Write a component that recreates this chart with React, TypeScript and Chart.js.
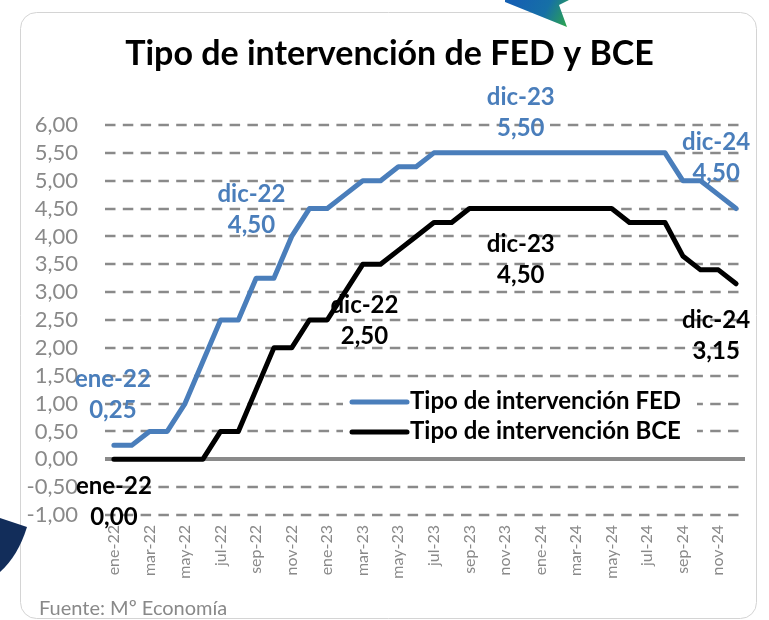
import React, { useEffect, useRef } from 'react';
import { Chart, registerables } from 'chart.js';

Chart.register(...registerables);

// ---------- data ----------
const months = [
  'ene-22', 'feb-22', 'mar-22', 'abr-22', 'may-22', 'jun-22', 'jul-22', 'ago-22', 'sep-22', 'oct-22', 'nov-22', 'dic-22',
  'ene-23', 'feb-23', 'mar-23', 'abr-23', 'may-23', 'jun-23', 'jul-23', 'ago-23', 'sep-23', 'oct-23', 'nov-23', 'dic-23',
  'ene-24', 'feb-24', 'mar-24', 'abr-24', 'may-24', 'jun-24', 'jul-24', 'ago-24', 'sep-24', 'oct-24', 'nov-24', 'dic-24',
];

const fedRates = [
  0.25, 0.25, 0.5, 0.5, 1.0, 1.75, 2.5, 2.5, 3.25, 3.25, 4.0, 4.5,
  4.5, 4.75, 5.0, 5.0, 5.25, 5.25, 5.5, 5.5, 5.5, 5.5, 5.5, 5.5,
  5.5, 5.5, 5.5, 5.5, 5.5, 5.5, 5.5, 5.5, 5.0, 5.0, 4.75, 4.5,
];

const bceRates = [
  0, 0, 0, 0, 0, 0, 0.5, 0.5, 1.25, 2.0, 2.0, 2.5,
  2.5, 3.0, 3.5, 3.5, 3.75, 4.0, 4.25, 4.25, 4.5, 4.5, 4.5, 4.5,
  4.5, 4.5, 4.5, 4.5, 4.5, 4.25, 4.25, 4.25, 3.65, 3.4, 3.4, 3.15,
];

const seriesNames = ['Tipo de intervención FED', 'Tipo de intervención BCE'];
const chartTitle = 'Tipo de intervención de FED y BCE';
const sourceNote = 'Fuente: Mº Economía';
const yMin = -1;
const yMax = 6;
const yStep = 0.5;

// callouts: which series / month gets a "month + value" label
const calloutMonthsFed = ['ene-22', 'dic-22', 'dic-23', 'dic-24'];
const calloutMonthsBce = ['ene-22', 'dic-22', 'dic-23', 'dic-24'];

// ---------- styles / layout (not data) ----------
const FONT = 'Lato, "Open Sans", sans-serif';
const BLUE = '#4a7ebb';
const BLACK = '#000000';
const GRAY_TXT = '#898989';
const GRID = '#8a8a8a';

// offsets of callout (first-line baseline) relative to its data point, in px
const calloutOffsets = [
  [[-1, -58], [-58, -7], [-2, -48], [-20, -59]],
  [[0, 35], [55, -7], [-2, 43], [-20, 44]],
];

const fmt = (v: number) => v.toFixed(2).replace('.', ',');

const decorPlugin = {
  id: 'decor',
  beforeDraw(chart: any) {
    const ctx = chart.ctx as CanvasRenderingContext2D;
    ctx.save();
    ctx.fillStyle = '#ffffff';
    ctx.fillRect(0, 0, chart.width, chart.height);

    // card border
    ctx.strokeStyle = '#d4d4d4';
    ctx.lineWidth = 1;
    ctx.beginPath();
    (ctx as any).roundRect(20.5, 12.5, 736, 606, 16);
    ctx.stroke();

    // top decoration
    const g = ctx.createLinearGradient(515, 0, 567, 27);
    g.addColorStop(0, '#1560b2');
    g.addColorStop(0.55, '#1670a6');
    g.addColorStop(1, '#2ea64c');
    ctx.fillStyle = g;
    ctx.beginPath();
    ctx.moveTo(505, 0);
    ctx.lineTo(569, 0);
    ctx.lineTo(559, 5);
    ctx.lineTo(567, 27);
    ctx.lineTo(505, 2);
    ctx.closePath();
    ctx.fill();

    // bottom-left decoration
    ctx.fillStyle = '#122d5a';
    ctx.beginPath();
    ctx.moveTo(0, 518);
    ctx.lineTo(27, 527);
    ctx.quadraticCurveTo(18, 556, 0, 572);
    ctx.closePath();
    ctx.fill();

    // title
    ctx.fillStyle = '#000000';
    ctx.font = `bold 34px ${FONT}`;
    ctx.textAlign = 'center';
    ctx.textBaseline = 'alphabetic';
    ctx.fillText(chartTitle, 389.5, 65);

    // source
    ctx.fillStyle = GRAY_TXT;
    ctx.font = `20px ${FONT}`;
    ctx.textAlign = 'left';
    ctx.fillText(sourceNote, 39, 615);
    ctx.restore();
  },
  beforeDatasetsDraw(chart: any) {
    const ctx = chart.ctx as CanvasRenderingContext2D;
    const { left, right } = chart.chartArea;
    const y = chart.scales.y;
    ctx.save();
    for (let v = yMin; v <= yMax + 1e-9; v += yStep) {
      const py = Math.round(y.getPixelForValue(v));
      ctx.beginPath();
      if (Math.abs(v) < 1e-9) {
        ctx.setLineDash([]);
        ctx.lineWidth = 4;
        ctx.strokeStyle = GRID;
      } else {
        ctx.setLineDash([10.5, 7.3]);
        ctx.lineWidth = 2.6;
        ctx.strokeStyle = GRID;
      }
      ctx.moveTo(left, py);
      ctx.lineTo(right, py);
      ctx.stroke();
    }
    ctx.restore();
  },
  afterDatasetsDraw(chart: any) {
    const ctx = chart.ctx as CanvasRenderingContext2D;
    const area = chart.chartArea;
    ctx.save();

    // legend (inside plot)
    const lx = area.left + 240;
    const ly = area.top + 277;
    ctx.fillStyle = '#ffffff';
    ctx.fillRect(lx - 2, ly - 14, 354, 59);
    ctx.font = `bold 24px ${FONT}`;
    ctx.textBaseline = 'middle';
    ctx.textAlign = 'left';
    chart.data.datasets.forEach((ds: any, i: number) => {
      const yy = ly + i * 30;
      ctx.strokeStyle = ds.borderColor;
      ctx.lineWidth = 5;
      ctx.lineCap = 'round';
      ctx.setLineDash([]);
      ctx.beginPath();
      ctx.moveTo(lx + 7, yy);
      ctx.lineTo(lx + 62, yy);
      ctx.stroke();
      ctx.fillStyle = '#000000';
      ctx.fillText(ds.label, lx + 65, yy - 1);
    });

    // callouts
    ctx.font = `bold 24px ${FONT}`;
    ctx.textAlign = 'center';
    ctx.textBaseline = 'alphabetic';
    const monthLists = [calloutMonthsFed, calloutMonthsBce];
    chart.data.datasets.forEach((ds: any, di: number) => {
      const meta = chart.getDatasetMeta(di);
      monthLists[di].forEach((m: string, k: number) => {
        const idx = months.indexOf(m);
        const pt = meta.data[idx];
        const [dx, dy] = calloutOffsets[di][k];
        ctx.fillStyle = ds.borderColor;
        ctx.fillText(m, pt.x + dx, pt.y + dy);
        ctx.fillText(fmt(ds.data[idx]), pt.x + dx, pt.y + dy + 31);
      });
    });
    ctx.restore();
  },
};

export default function App() {
  const ref = useRef<HTMLCanvasElement>(null);

  useEffect(() => {
    if (!ref.current) return;
    const chart = new Chart(ref.current, {
      type: 'line',
      data: {
        labels: months,
        datasets: [
          {
            label: seriesNames[0],
            data: fedRates,
            borderColor: BLUE,
            backgroundColor: BLUE,
            borderWidth: 5,
            pointRadius: 0,
            tension: 0,
            borderJoinStyle: 'round',
            borderCapStyle: 'round',
          },
          {
            label: seriesNames[1],
            data: bceRates,
            borderColor: BLACK,
            backgroundColor: BLACK,
            borderWidth: 5,
            pointRadius: 0,
            tension: 0,
            borderJoinStyle: 'round',
            borderCapStyle: 'round',
          },
        ],
      },
      options: {
        responsive: false,
        animation: false,
        devicePixelRatio: 1,
        layout: { padding: { left: 20, right: 24, top: 125, bottom: 0 } },
        plugins: {
          legend: { display: false },
          tooltip: { enabled: false },
          title: { display: false },
        },
        scales: {
          x: {
            type: 'category',
            offset: true,
            grid: { display: false, drawTicks: false },
            border: { display: false },
            ticks: {
              autoSkip: false,
              minRotation: 90,
              maxRotation: 90,
              padding: 10,
              color: GRAY_TXT,
              font: { family: FONT, size: 16 },
              callback: (_v: any, i: number) => (i % 2 === 0 ? months[i] : ''),
            },
            afterFit: (s: any) => {
              s.height = 105;
            },
          },
          y: {
            min: yMin,
            max: yMax,
            grid: { display: false, drawTicks: false },
            border: { display: false },
            ticks: {
              stepSize: yStep,
              autoSkip: false,
              padding: 27,
              color: GRAY_TXT,
              font: { family: FONT, size: 22 },
              callback: (v: any) => fmt(Number(v)),
            },
            afterFit: (s: any) => {
              s.width = 85;
            },
          },
        },
      },
      plugins: [decorPlugin],
    });
    return () => chart.destroy();
  }, []);

  return (
    <div style={{ position: 'absolute', left: 0, top: 0, width: 769, height: 620, background: '#fff' }}>
      <canvas ref={ref} width={769} height={620} style={{ display: 'block' }} />
    </div>
  );
}
